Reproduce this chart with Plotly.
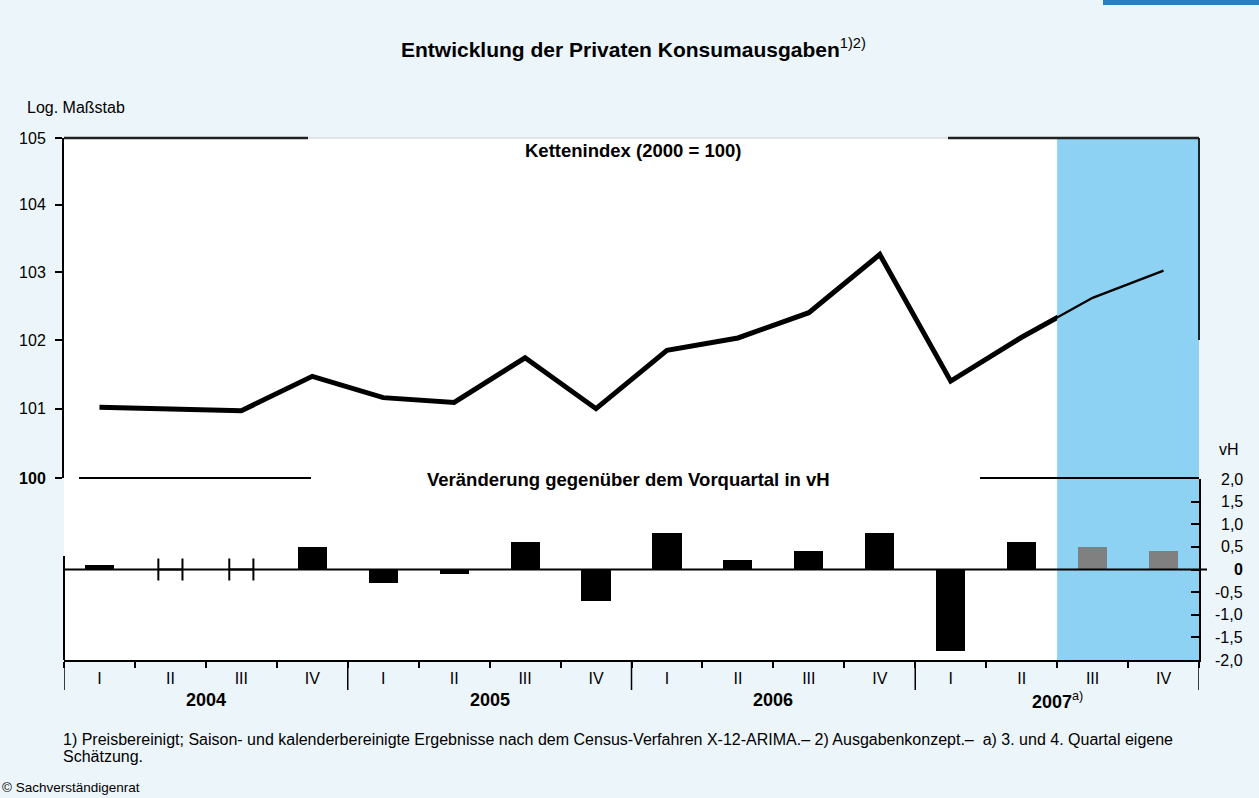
import math
import plotly.graph_objects as go

# ---------------- data ----------------
quarters = ["I", "II", "III", "IV"] * 4
years = ["2004", "2005", "2006", "2007"]
year_labels = ["<b>2004</b>", "<b>2005</b>", "<b>2006</b>", "<b>2007</b><sup>a)</sup>"]
index_values = [101.02, 101.00, 100.97, 101.47, 101.16, 101.09, 101.74, 101.00,
                101.85, 102.03, 102.40, 103.26, 101.40, 102.04, 102.62, 103.02]
change_values = [0.1, 0.0, 0.0, 0.5, -0.3, -0.1, 0.6, -0.7,
                 0.8, 0.2, 0.4, 0.8, -1.8, 0.6, 0.5, 0.4]
n_actual = 14  # 2004 I .. 2007 II observed, rest estimated
y_ticks_top = [100, 101, 102, 103, 104, 105]
y_ticks_bottom = [2.0, 1.5, 1.0, 0.5, 0.0, -0.5, -1.0, -1.5, -2.0]

# ---------------- layout constants ----------------
W, H = 1259, 798
L, R, T, B = 64, 60, 138, 138
PW, PH = W - L - R, H - T - B


def px_x(px):
    return (px - L) / PW


def px_y(py):
    return (H - B - py) / PH


BG = "#ecf5f9"
SHADE = "#8dd2f3"
FONT = "Liberation Sans, Arial, Helvetica, sans-serif"
n = len(quarters)
x = list(range(n))
BAR_W = 0.41
split = n_actual - 0.5  # boundary between observed and estimated

fig = go.Figure()

# thick line (observed), clipped at boundary via its own x-axis domain
fig.add_trace(go.Scatter(x=x[:n_actual + 1], y=index_values[:n_actual + 1], mode="lines",
                         line=dict(color="black", width=5), xaxis="x3", yaxis="y",
                         hoverinfo="skip", showlegend=False))
# thin line (estimate)
fig.add_trace(go.Scatter(x=x[n_actual - 1:], y=index_values[n_actual - 1:], mode="lines",
                         line=dict(color="black", width=2.4), xaxis="x", yaxis="y",
                         showlegend=False))

bar_colors = ["black" if i < n_actual else "#808080" for i in range(n)]
fig.add_trace(go.Bar(x=x, y=change_values, width=BAR_W, marker=dict(color=bar_colors, line=dict(width=0)),
                     xaxis="x", yaxis="y2", showlegend=False))

# near-zero bars: drawn as edge ticks
zx = [i for i, v in enumerate(change_values) if v == 0]
fig.add_trace(go.Scatter(x=zx, y=[0] * len(zx), mode="markers", marker=dict(size=1, color="rgba(0,0,0,0)"),
                         error_x=dict(type="constant", value=0.17, width=11, thickness=2, color="black"),
                         xaxis="x", yaxis="y2", showlegend=False, hoverinfo="skip"))

shapes = []
shapes.append(dict(type="rect", xref="paper", yref="paper", x0=0, x1=1, y0=0, y1=1,
                   fillcolor="white", line=dict(width=0), layer="below"))
shapes.append(dict(type="rect", xref="x", yref="paper", x0=split, x1=n - 0.5, y0=0, y1=1,
                   fillcolor=SHADE, line=dict(width=0), layer="below"))
shapes.append(dict(type="line", xref="paper", yref="paper", x0=0, x1=px_x(308), y0=1, y1=1,
                   line=dict(color="#222", width=2.5)))
shapes.append(dict(type="line", xref="paper", yref="paper", x0=px_x(308), x1=px_x(948), y0=1, y1=1,
                   line=dict(color="#cfcfcf", width=1.2)))
shapes.append(dict(type="line", xref="paper", yref="paper", x0=px_x(948), x1=1, y0=1, y1=1,
                   line=dict(color="#222", width=2.5)))
shapes.append(dict(type="line", xref="paper", yref="paper", x0=1, x1=1, y0=px_y(340), y1=1,
                   line=dict(color="#222", width=2)))
shapes.append(dict(type="line", xref="paper", yref="paper", x0=px_x(79), x1=px_x(311),
                   y0=px_y(478), y1=px_y(478), line=dict(color="black", width=2)))
shapes.append(dict(type="line", xref="paper", yref="paper", x0=px_x(980), x1=1,
                   y0=px_y(478), y1=px_y(478), line=dict(color="black", width=2)))
shapes.append(dict(type="line", xref="paper", yref="paper", x0=0, x1=0, y0=0, y1=px_y(556),
                   line=dict(color="black", width=2)))
shapes.append(dict(type="line", xref="paper", yref="y2", x0=0, x1=px_x(1207), y0=0, y1=0,
                   line=dict(color="black", width=2)))
for k in range(len(years) + 1):
    xv = -0.5 + 4 * k
    shapes.append(dict(type="line", xref="x", yref="paper", x0=xv, x1=xv, y0=0, y1=px_y(690),
                       line=dict(color="black", width=1.5)))
shapes.append(dict(type="rect", xref="paper", yref="paper", x0=px_x(1103), x1=px_x(1262),
                   y0=px_y(5), y1=px_y(-2), fillcolor="#2a7fc0", line=dict(width=0)))


def txt(text, xp, yp, size, xanchor="center", xref="paper", yref="paper"):
    return dict(text=text, xref=xref, yref=yref, x=xp, y=yp, xanchor=xanchor, yanchor="middle",
                showarrow=False, align="left", font=dict(size=size, color="black", family=FONT))


annotations = []
annotations.append(txt("<b>Entwicklung der Privaten Konsumausgaben</b><sup>1)2)</sup>",
                       px_x(633), px_y(48), 21))
annotations.append(txt("Log. Maßstab", px_x(25), px_y(108), 16, xanchor="left"))
annotations.append(txt("<b>Kettenindex (2000 = 100)</b>", px_x(633), px_y(150), 18.5))
annotations.append(txt("<b>Veränderung gegenüber dem Vorquartal in vH</b>", px_x(628), px_y(479), 18.5))
annotations.append(txt("vH", px_x(1241), px_y(450), 16, xanchor="right"))
for v in y_ticks_bottom:
    lab = ("%.1f" % v).replace(".", ",")
    if v == 0:
        lab = "<b>0</b>"
    annotations.append(txt(lab, px_x(1245), v, 16, xanchor="right", yref="y2"))
for k, yl in enumerate(year_labels):
    annotations.append(txt(yl, 1.5 + 4 * k, px_y(700), 18, xref="x"))
annotations.append(txt("1) Preisbereinigt; Saison- und kalenderbereinigte Ergebnisse nach dem "
                       "Census-Verfahren X-12-ARIMA.– 2) Ausgabenkonzept.–  a) 3. und 4. Quartal eigene",
                       px_x(61), px_y(739), 16, xanchor="left"))
annotations.append(txt("Schätzung.", px_x(61), px_y(756), 16, xanchor="left"))
annotations.append(txt("© Sachverständigenrat", px_x(0), px_y(787), 13.5, xanchor="left"))

fig.update_layout(
    width=W, height=H,
    margin=dict(l=L, r=R, t=T, b=B),
    paper_bgcolor=BG, plot_bgcolor="rgba(0,0,0,0)",
    font=dict(family=FONT, size=16, color="black"),
    showlegend=False,
    bargap=0,
    xaxis=dict(domain=[0, 1], range=[-0.5, n - 0.5], anchor="y2",
               tickmode="array", tickvals=x, ticktext=quarters, ticks="",
               showline=True, linecolor="black", linewidth=2, showgrid=False, zeroline=False,
               tickfont=dict(size=16), ticklabelstandoff=3,
               minor=dict(tickmode="array", tickvals=[i - 0.5 for i in range(n + 1)],
                          ticks="outside", ticklen=6, tickwidth=1.5, tickcolor="black", showgrid=False)),
    xaxis3=dict(domain=[0, (split + 0.5) / n], range=[-0.5, split], anchor="y", visible=False,
                showgrid=False, zeroline=False),
    yaxis=dict(domain=[px_y(478), 1], type="log",
               range=[math.log10(100), math.log10(105)],
               tickmode="array", tickvals=y_ticks_top,
               ticktext=["<b>100</b>"] + [str(v) for v in y_ticks_top[1:]],
               ticks="outside", ticklen=7, tickwidth=1.5, tickcolor="black",
               showline=True, linecolor="black", linewidth=2, showgrid=False, zeroline=False,
               anchor="x", tickfont=dict(size=16), ticklabelstandoff=6),
    yaxis2=dict(domain=[0, px_y(479)], range=[-2, 2], side="right", anchor="x",
                tickmode="array", tickvals=y_ticks_bottom, ticks="inside", ticklen=8, tickwidth=1.5,
                tickcolor="black", showticklabels=False,
                showline=True, linecolor="black", linewidth=2, showgrid=False, zeroline=False),
    shapes=shapes, annotations=annotations,
)

fig.write_html("out.html", config={"displayModeBar": False},
               post_script="document.body.style.margin='0px';")
